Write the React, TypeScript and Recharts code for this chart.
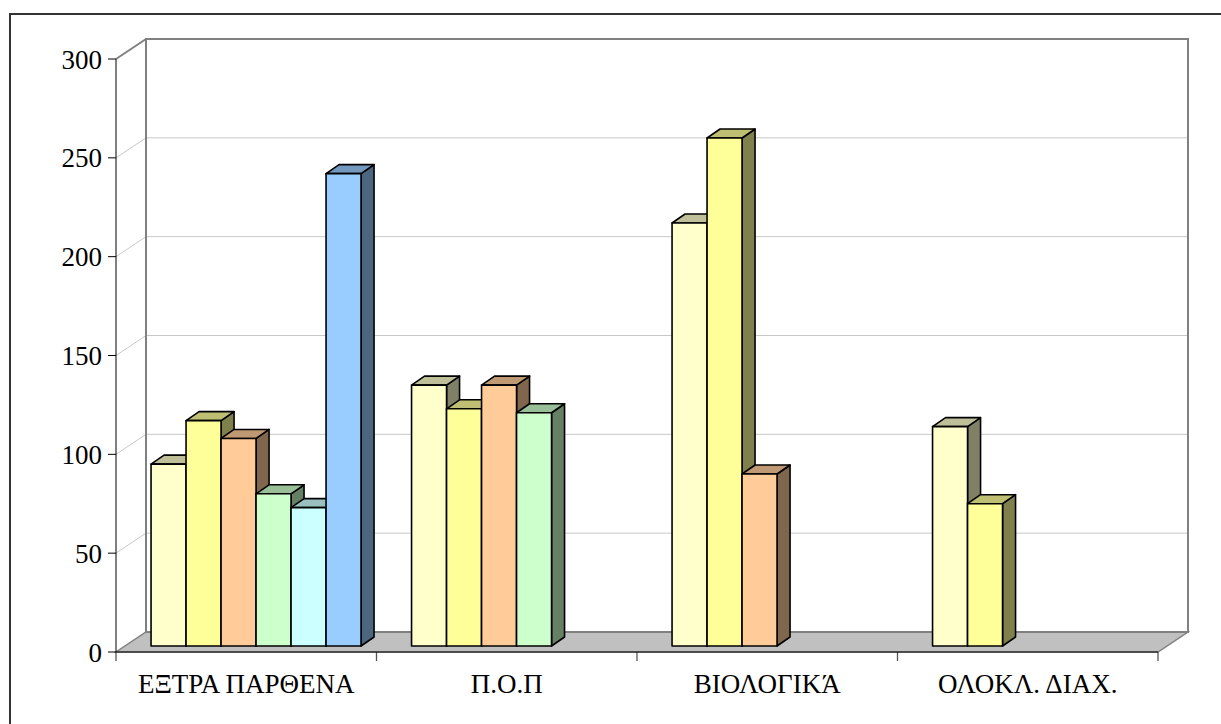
import React from 'react';
import {
  BarChart,
  Bar,
  XAxis,
  YAxis,
  CartesianGrid,
  ReferenceArea,
} from 'recharts';

const categories = ['ΕΞΤΡΑ ΠΑΡΘΕΝΑ', 'Π.Ο.Π', 'ΒΙΟΛΟΓΙΚΆ', 'ΟΛΟΚΛ. ΔΙΑΧ.'];

const series1 = [92, 132, 214, 111];
const series2 = [114, 120, 257, 72];
const series3 = [105, 132, 87, null];
const series4 = [77, 118, null, null];
const series5 = [70, null, null, null];
const series6 = [239, null, null, null];

const yTicks = [0, 50, 100, 150, 200, 250, 300];

const seriesKeys = ['s1', 's2', 's3', 's4', 's5', 's6'];
const seriesValues = [series1, series2, series3, series4, series5, series6];

// front / top / side shades for each series
const palette = [
  { front: '#FFFFCC', top: '#BFBF99', side: '#808066' },
  { front: '#FFFF99', top: '#BFBF73', side: '#80804D' },
  { front: '#FFCC99', top: '#BF9973', side: '#80664D' },
  { front: '#CCFFCC', top: '#99BF99', side: '#668066' },
  { front: '#CCFFFF', top: '#99BFBF', side: '#668080' },
  { front: '#99CCFF', top: '#7399BF', side: '#4D6680' },
];

const data = categories.map((name, i) => {
  const row: Record<string, string | number | null> = { name };
  seriesKeys.forEach((k, s) => {
    row[k] = seriesValues[s][i];
  });
  return row;
});

// depth of the box (floor / back wall) and of each bar
const WALL_DX = 30;
const WALL_DY = -20;
const BAR_OFF_X = 9;
const BAR_OFF_Y = -6;
const BAR_DX = 13;
const BAR_DY = -9;

const FONT = "'Liberation Serif', 'Times New Roman', serif";

function makeBarShape(key: string, colors: { front: string; top: string; side: string }) {
  return (props: any) => {
    const { x, y, width, height, payload } = props;
    if (payload == null || payload[key] == null) return <g />;
    const fx = x + BAR_OFF_X;
    const fy = y + BAR_OFF_Y;
    const bottom = fy + height;
    const stroke = { stroke: '#000', strokeWidth: 1.6, strokeLinejoin: 'round' as const };
    return (
      <g>
        <polygon
          points={`${fx + width},${fy} ${fx + width + BAR_DX},${fy + BAR_DY} ${fx + width + BAR_DX},${bottom + BAR_DY} ${fx + width},${bottom}`}
          fill={colors.side}
          {...stroke}
        />
        <polygon
          points={`${fx},${fy} ${fx + width},${fy} ${fx + width + BAR_DX},${fy + BAR_DY} ${fx + BAR_DX},${fy + BAR_DY}`}
          fill={colors.top}
          {...stroke}
        />
        <rect x={fx} y={fy} width={width} height={height} fill={colors.front} {...stroke} />
      </g>
    );
  };
}

// walls, floor and category boundary ticks
function Box(props: any) {
  const { x, y, width, height } = props;
  const left = x;
  const right = x + width;
  const top = y;
  const bottom = y + height;
  const n = categories.length;
  return (
    <g>
      <polygon
        points={`${left},${bottom} ${right},${bottom} ${right + WALL_DX},${bottom + WALL_DY} ${left + WALL_DX},${bottom + WALL_DY}`}
        fill="#C0C0C0"
        stroke="#808080"
        strokeWidth={1.5}
      />
      <rect
        x={left + WALL_DX}
        y={top + WALL_DY}
        width={width}
        height={height}
        fill="none"
        stroke="#808080"
        strokeWidth={2}
      />
      <line
        x1={left}
        y1={top}
        x2={left + WALL_DX}
        y2={top + WALL_DY}
        stroke="#808080"
        strokeWidth={2}
      />
      {Array.from({ length: n + 1 }).map((_, i) => {
        const tx = left + (width * i) / n;
        return <line key={i} x1={tx} y1={bottom} x2={tx} y2={bottom + 9} stroke="#555" strokeWidth={1.3} />;
      })}
    </g>
  );
}

function GridLine(props: any) {
  const { x1, y1, x2 } = props;
  return (
    <g>
      <line x1={x1} y1={y1} x2={x1 + WALL_DX} y2={y1 + WALL_DY} stroke="#C8C8C8" strokeWidth={1} />
      <line x1={x1 + WALL_DX} y1={y1 + WALL_DY} x2={x2 + WALL_DX} y2={y1 + WALL_DY} stroke="#C8C8C8" strokeWidth={1} />
    </g>
  );
}

export default function App() {
  return (
    <div
      style={{
        position: 'absolute',
        left: 0,
        top: 0,
        width: 1221,
        height: 724,
        overflow: 'hidden',
        background: '#fff',
      }}
    >
      <div
        style={{
          position: 'absolute',
          left: 9,
          top: 13,
          width: 1300,
          height: 800,
          border: '2px solid #333',
        }}
      />
      <div style={{ position: 'absolute', left: 0, top: 0 }}>
        <BarChart
          width={1221}
          height={724}
          data={data}
          margin={{ top: 59, right: 63, left: 56, bottom: 12 }}
          barCategoryGap="10%"
          barGap={0}
        >
          <ReferenceArea y1={0} y2={300} ifOverflow="visible" shape={(p: any) => <Box {...p} />} />
          <CartesianGrid
            vertical={false}
            horizontalValues={yTicks.slice(1, -1)}
            horizontal={(p: any) => <GridLine key={p.key} {...p} />}
          />
          <XAxis
            dataKey="name"
            height={60}
            tickLine={false}
            tickSize={0}
            tickMargin={22}
            stroke="#000"
            tick={{ fill: '#000', fontSize: 27, fontFamily: FONT }}
          />
          <YAxis
            width={60}
            domain={[0, 300]}
            ticks={yTicks}
            tickSize={8}
            tickMargin={6}
            stroke="#000"
            tick={{ fill: '#000', fontSize: 27, fontFamily: FONT }}
          />
          {seriesKeys.map((k, i) => (
            <Bar
              key={k}
              dataKey={k}
              isAnimationActive={false}
              fill={palette[i].front}
              shape={makeBarShape(k, palette[i])}
            />
          ))}
        </BarChart>
      </div>
    </div>
  );
}
